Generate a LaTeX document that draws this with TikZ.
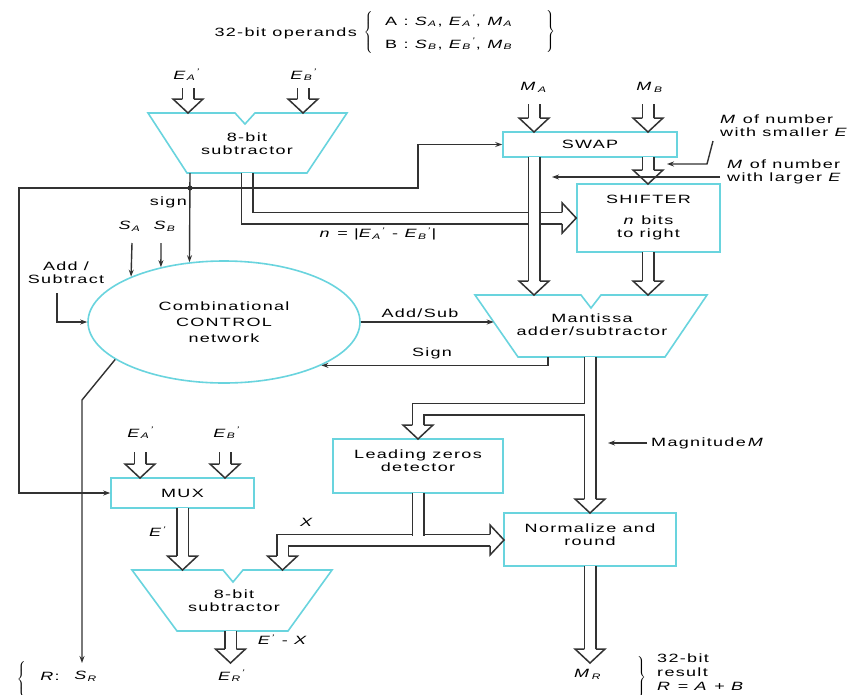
\documentclass[tikz,border=0pt]{standalone}
\usepackage{fontspec}
\setmainfont{Liberation Sans}[FakeStretch=1.5,LetterSpace=11]
\usetikzlibrary{shapes.geometric,arrows.meta,calc}
\definecolor{boxc}{RGB}{105,212,222}
\definecolor{linec}{RGB}{50,50,50}
\newcommand\vv[2]{\textit{#1}\textsubscript{\textit{#2}}}
\newcommand\vp[2]{\textit{#1}\textsubscript{\textit{#2}}\textsuperscript{\textit{'}}}
\tikzset{
  busd/.pic={\draw[draw=linec,line width=1.5pt,fill=white] (-5.75,-14) -- (-15,-14) -- (0,0) -- (15,-14) -- (5.75,-14);},
  busr/.pic={\draw[draw=linec,line width=1.5pt,fill=white] (-14,-5.75) -- (-14,-15) -- (0,0) -- (-14,15) -- (-14,5.75);},
}
\newcommand\busdown[2]{\draw[bus] (#1) -- ($(#2)+(0,-14)$); \pic at (#2) {busd};}
\begin{document}
\begin{tikzpicture}[x=1pt,y=-1pt,font=\fontsize{12}{13}\selectfont,
  shp/.style={draw=boxc,line width=1.6pt,fill=white},
  blk/.style={shp,inner sep=0pt,align=center},
  lbl/.style={inner sep=0pt,align=center},
  sig/.style={draw=linec,line width=1.4pt,-{Stealth[length=7pt,width=5pt]}},
  bus/.style={draw=linec,line width=1.5pt,double=white,double distance=10pt}]
\fill[white] (0,0) rectangle (851,694);
\useasboundingbox (0,0) rectangle (851,694);

% ---------- header
\node[lbl,anchor=east] (ops) at (357,33) {32-bit operands};
\node[lbl] (lbr) at (369,32) {$\left\{\vrule height 18pt depth 18pt width 0pt\right.$};
\node[lbl,anchor=west] (rowa) at (385,21) {A :\ \vv{S}{A}, \vp{E}{A}, \vv{M}{A}};
\node[lbl,anchor=west] (rowb) at (385,44) {B :\ \vv{S}{B}, \vp{E}{B}, \vv{M}{B}};
\node[lbl] (rbr) at (550,31) {$\left.\vrule height 18pt depth 18pt width 0pt\right\}$};

% ---------- blocks
\draw[shp] (148,113) -- (235,113) -- (245,124) -- (255,113) -- (347,113) -- (307,173) -- (187,173) -- cycle;
\node[lbl] (sub1) at (247,144) {8-bit\\subtractor};

\node[blk,minimum width=174pt,minimum height=25pt] (swap) at (590,144.5) {SWAP};
\node[blk,minimum width=143pt,minimum height=68pt] (shift) at (648.5,218) {SHIFTER\\[8pt]\textit{n} bits\\to right};

\draw[shp] (475,295) -- (581,295) -- (591,308) -- (601,295) -- (707,295) -- (665,357) -- (518,357) -- cycle;
\node[lbl] (mant) at (592,325) {Mantissa\\adder/subtractor};

\node[draw=boxc,line width=1.6pt,ellipse,minimum width=272pt,minimum height=122pt,inner sep=0pt,align=center,font=\fontsize{12}{16}\selectfont] (ctl) at (224,322) {Combinational\\CONTROL\\network};

\node[blk,minimum width=143pt,minimum height=30pt] (mux) at (182.5,493) {MUX};

\draw[shp] (132,570) -- (223,570) -- (233,582) -- (243,570) -- (332,570) -- (288,631) -- (177,631) -- cycle;
\node[lbl] (sub2) at (234,601) {8-bit\\subtractor};

\node[blk,minimum width=170pt,minimum height=54pt] (lzd) at (418,466) {};
\node[lbl] (lzdt) at (418,461) {Leading zeros\\detector};

\node[blk,minimum width=172pt,minimum height=53pt] (norm) at (590,539.5) {};
\node[lbl] (normt) at (590,535) {Normalize and\\round};

% ---------- labels
\node[lbl] (ea1) at (187,75) {\vp{E}{A}};
\node[lbl] (eb1) at (304,75) {\vp{E}{B}};
\node[lbl] (ma) at (534,87) {\textit{M}\textsubscript{\,\textit{A}}};
\node[lbl] (mb) at (650,87) {\textit{M}\textsubscript{\,\textit{B}}};
\node[lbl,anchor=west,align=left] (smallE) at (720,126) {\textit{M} of number\\with smaller \textit{E}};
\node[lbl,anchor=west,align=left] (largeE) at (727,172) {\textit{M} of number\\with larger \textit{E}};
\node[lbl,anchor=east] (signl) at (187,202) {sign};
\node[lbl] (sa) at (130,226) {\vv{S}{A}};
\node[lbl] (sb) at (165,226) {\vv{S}{B}};
\node[lbl] (addsub) at (66,273) {Add /\\Subtract};
\node[lbl] (nl) at (378,234) {\textit{n} = |\vp{E}{A} - \vp{E}{B}|};
\node[lbl] (addsubl) at (420,313) {Add/Sub};
\node[lbl] (signl2) at (432,353) {Sign};
\node[lbl,anchor=west] (magl) at (651,443) {Magnitude\,\textit{M}};
\node[lbl] (ea2) at (141,433) {\vp{E}{A}};
\node[lbl] (eb2) at (227,433) {\vp{E}{B}};
\node[lbl] (ep) at (158,532) {\textit{E}\textsuperscript{\textit{'}}};
\node[lbl] (xl) at (307,522) {\textit{X}};
\node[lbl] (emx) at (283,640) {\textit{E}\textsuperscript{\textit{'}} - \textit{X}};
\node[lbl] (er) at (232,676) {\vp{E}{R}};
\node[lbl] (mr) at (588,674) {\textit{M}\textsubscript{\,\textit{R}}};
\node[lbl] (lbr2) at (22,680) {$\left\{\vrule height 16pt depth 16pt width 0pt\right.$};
\node[lbl] (rl) at (50,676) {\textit{R}:};
\node[lbl] (srl) at (86,676) {\vv{S}{R}};
\node[lbl] (rbr2) at (641,677) {$\left.\vrule height 17pt depth 17pt width 0pt\right\}$};
\node[lbl,anchor=west,align=left,font=\fontsize{12}{14}\selectfont] (res) at (657,672) {32-bit\\result\\\textit{R} = \textit{A} + \textit{B}};

% ---------- buses
\busdown{188,88}{188,113}
\busdown{303,88}{303,113}
\busdown{534,104}{534,132}
\busdown{648,104}{648,132}
\draw[bus] (247,173) |- (563,218); \pic at (shift.west) {busr};
\busdown{534,157}{534,295}
\busdown{648,157}{648,184}
\busdown{648,252}{648,295}
\busdown{140,452}{140,478}
\busdown{225,452}{225,478}
\busdown{182.5,508}{182.5,570}
\busdown{230.5,631}{230.5,663}
% mantissa output, branch to LZD
\busdown{590,357}{590,513}
\draw[bus] (585.1,409) -| (418,425); \pic at (418,439) {busd};
% LZD output T
\draw[bus] (282.5,556) |- (490,540); \pic at (504,540) {busr};
\pic at (282.5,570) {busd};
\draw[bus] (418,493) -- (418,535.5);
\busdown{590,566}{590,663}

% ---------- signal wires
\coordinate (dot) at (190,188);
\draw[sig] (190,173) -- (ctl.120);
\draw[sig] (dot) -| (19,493) -- (mux.west);
\draw[sig] (dot) -- (418,188) |- (swap.west);
\fill[linec] (dot) circle (2.5pt);
\draw[sig] (713,141) -- (707,164) -- (667,164);
\draw[sig] (720,177) -- (552,177);
\draw[sig] (132,243) -- (ctl.154);
\draw[sig] (161,243) -- (ctl.139.3);
\draw[sig] (57,293) |- (ctl.west);
\draw[sig] (ctl.east) -- (493.7,322);
\draw[sig] (548,357) |- (ctl.-24);
\draw[sig] (ctl.199) -- (82,400) -- (82,663);
\draw[sig] (647,443) -- (608,443);
\end{tikzpicture}
\end{document}
